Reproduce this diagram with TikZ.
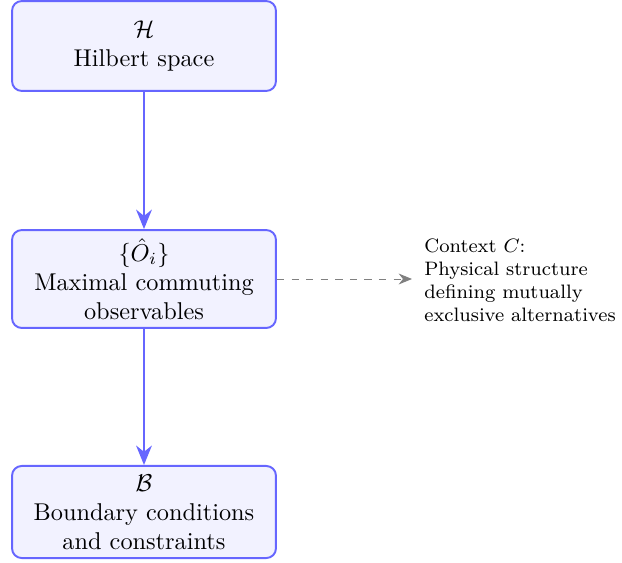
\documentclass[tikz,border=0pt]{standalone}
\usetikzlibrary{arrows.meta}
\begin{document}
\begin{tikzpicture}[x=0.4115pt,y=-0.4115pt,
  box/.style={rounded corners=4pt, draw=blue!60, fill=blue!5, line width=0.8pt,
    minimum width=108.6pt, align=center, inner sep=2pt},
  flow/.style={draw=blue!60, line width=0.8pt, -{Stealth[length=8pt,width=6.5pt]}},
  ctx/.style={draw=gray, line width=0.4pt, dashed, -{Stealth[length=5.5pt,width=4.5pt]}},
  note/.style={font=\footnotesize, align=left, inner ysep=0pt, inner xsep=4.9pt, anchor=west}]
\useasboundingbox (0,0) rectangle (622,563);
\node[box, minimum height=37pt] (b1) at (144,46) {$\mathcal{H}$\\Hilbert space};
\node[box, minimum height=40.3pt] (b2) at (144,279) {$\{\hat{O}_i\}$\\Maximal commuting\\observables};
\node[box, minimum height=37.9pt] (b3) at (144,512) {$\mathcal{B}$\\Boundary conditions\\and constraints};
\node[note] (n) at (412,280) {Context $C$:\\Physical structure\\defining mutually\\exclusive alternatives};
\draw[flow] (b1) -- (b2);
\draw[flow] (b2) -- (b3);
\draw[ctx] (b2.east) -- (n.west |- b2.east);
\end{tikzpicture}
\end{document}
